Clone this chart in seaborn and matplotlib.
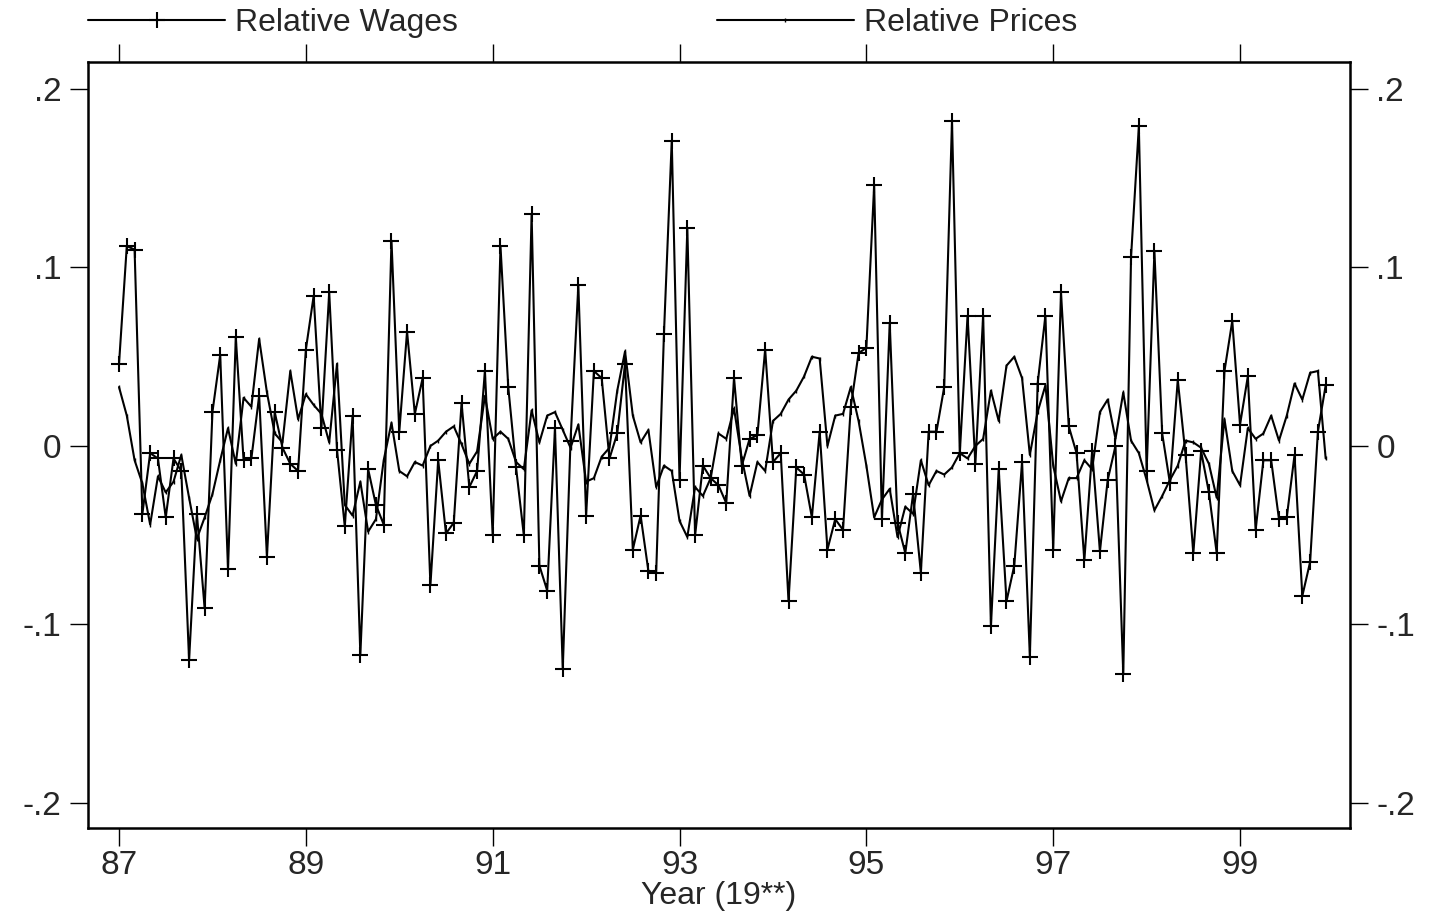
import numpy as np
import pandas as pd
import matplotlib
matplotlib.use("Agg")
import matplotlib.pyplot as plt
from matplotlib.lines import Line2D
import seaborn as sns

# ---- data (monthly, Jan 1987 .. Dec 1999) ----
start_year = 87
relative_wages = [
    0.046, 0.112, 0.110, -0.038, -0.004, -0.007, -0.040, -0.007, -0.014, -0.120,
    -0.038, -0.091, 0.019, 0.051, -0.069, 0.061, -0.008, -0.007, 0.028, -0.062,
    0.019, -0.001, -0.010, -0.014, 0.054, 0.084, 0.010, 0.086, -0.002, -0.045,
    0.017, -0.117, -0.013, -0.033, -0.044, 0.115, 0.008, 0.064, 0.018, 0.038,
    -0.078, -0.008, -0.049, -0.043, 0.024, -0.023, -0.014, 0.042, -0.050, 0.112,
    0.033, -0.012, -0.050, 0.130, -0.067, -0.081, 0.010, -0.125, 0.003, 0.090,
    -0.039, 0.042, 0.038, -0.007, 0.007, 0.046, -0.058, -0.039, -0.070, -0.071,
    0.063, 0.171, -0.019, 0.122, -0.050, -0.011, -0.018, -0.022, -0.032, 0.038,
    -0.011, 0.004, 0.006, 0.054, -0.009, -0.004, -0.087, -0.012, -0.016, -0.040,
    0.008, -0.058, -0.041, -0.047, 0.022, 0.052, 0.055, 0.146, -0.041, 0.069,
    -0.043, -0.060, -0.027, -0.071, 0.008, 0.008, 0.033, 0.182, -0.004, 0.073,
    -0.010, 0.073, -0.101, -0.013, -0.087, -0.067, -0.009, -0.118, 0.035, 0.073,
    -0.058, 0.086, 0.011, -0.004, -0.064, -0.003, -0.059, -0.019, 0.000, -0.128,
    0.106, 0.179, -0.014, 0.109, 0.007, -0.021, 0.037, -0.005, -0.060, -0.003,
    -0.026, -0.060, 0.042, 0.070, 0.012, 0.039, -0.047, -0.008, -0.008, -0.041,
    -0.040, -0.005, -0.084, -0.065, 0.008, 0.034,
]
relative_prices = [
    0.033, 0.017, -0.008, -0.021, -0.044, -0.017, -0.026, -0.020, -0.005, -0.029,
    -0.052, -0.040, -0.027, -0.008, 0.010, -0.010, 0.027, 0.022, 0.060, 0.030,
    0.007, 0.002, 0.042, 0.015, 0.029, 0.023, 0.018, 0.002, 0.046, -0.033,
    -0.039, -0.020, -0.048, -0.041, -0.008, 0.013, -0.014, -0.017, -0.009, -0.011,
    0.000, 0.003, 0.008, 0.011, 0.001, -0.010, -0.003, 0.028, 0.004, 0.008,
    0.004, -0.009, -0.013, 0.020, 0.002, 0.017, 0.019, 0.009, -0.001, 0.012,
    -0.020, -0.018, -0.006, -0.001, 0.031, 0.053, 0.017, 0.002, 0.009, -0.023,
    -0.011, -0.014, -0.042, -0.051, -0.023, -0.028, -0.018, 0.007, 0.004, 0.021,
    -0.007, -0.028, -0.009, -0.014, 0.014, 0.018, 0.026, 0.031, 0.039, 0.050,
    0.049, 0.000, 0.017, 0.018, 0.033, 0.014, -0.011, -0.040, -0.030, -0.024,
    -0.051, -0.034, -0.038, -0.008, -0.022, -0.014, -0.016, -0.012, -0.004, -0.007,
    0.000, 0.004, 0.031, 0.014, 0.045, 0.050, 0.038, -0.005, 0.019, 0.034,
    -0.011, -0.031, -0.018, -0.018, -0.008, -0.013, 0.019, 0.026, 0.004, 0.030,
    0.003, -0.004, -0.019, -0.036, -0.028, -0.019, -0.011, 0.003, 0.002, -0.001,
    -0.010, -0.029, 0.015, -0.014, -0.022, 0.010, 0.004, 0.007, 0.017, 0.003,
    0.017, 0.035, 0.026, 0.041, 0.042, -0.007,
]
series_names = ["Relative Wages", "Relative Prices"]
x_ticks = [87, 89, 91, 93, 95, 97, 99]
x_tick_labels = ["87", "89", "91", "93", "95", "97", "99"]
y_ticks = [0.2, 0.1, 0.0, -0.1, -0.2]
y_tick_labels = [".2", ".1", "0", "-.1", "-.2"]
x_label = "Year (19**)"

years = start_year + np.arange(len(relative_wages)) / 12.0
df_w = pd.DataFrame({"year": years, "value": relative_wages})
df_p = pd.DataFrame({"year": years, "value": relative_prices})

sns.set_style("white")
plt.rcParams["font.family"] = ["Liberation Sans", "DejaVu Sans"]

W, H = 1433, 915
fig = plt.figure(figsize=(W / 100, H / 100), dpi=100)
L, R, T, B = 88, 1350, 62, 828
ax = fig.add_axes([L / W, 1 - B / H, (R - L) / W, (B - T) / H])

sns.lineplot(data=df_w, x="year", y="value", ax=ax, estimator=None,
             color="black", lw=1.5, marker="+", markersize=11,
             markeredgecolor="black", markeredgewidth=1.5, legend=False)
sns.lineplot(data=df_p, x="year", y="value", ax=ax, estimator=None,
             color="black", lw=1.5, marker="|", markersize=3,
             markeredgecolor="black", markeredgewidth=1.0, legend=False)

ax.set_xlim(86.668, 100.177)
ax.set_ylim(-0.214, 0.2151)
ax.set_xticks(x_ticks)
ax.set_xticklabels(x_tick_labels)
ax.set_yticks(y_ticks)
ax.set_yticklabels(y_tick_labels)
ax.set_xlabel(x_label, fontsize=23, labelpad=0)
ax.set_ylabel("")

for s in ax.spines.values():
    s.set_visible(True)
    s.set_linewidth(1.8)
    s.set_color("black")

ax.tick_params(axis="both", which="major", direction="out", length=13,
               width=1.0, color="black", labelsize=24, pad=3,
               top=True, bottom=True, left=True, right=True,
               labelleft=True, labelright=True, labeltop=False)
ax.tick_params(axis="y", pad=6)
ax.grid(False)

handles = [
    Line2D([], [], color="black", lw=1.5, marker="+", markersize=11,
           markeredgewidth=1.5),
    Line2D([], [], color="black", lw=1.5, marker="|", markersize=3,
           markeredgewidth=1.0),
]
fig.legend(handles, series_names, loc="center left",
           bbox_to_anchor=(L / W, 1 - 23 / H), ncol=2, frameon=False,
           fontsize=23, handlelength=4.3, handletextpad=0.3,
           columnspacing=8.1, borderpad=0, borderaxespad=0)

fig.savefig("out.png", dpi=100, facecolor="white")
